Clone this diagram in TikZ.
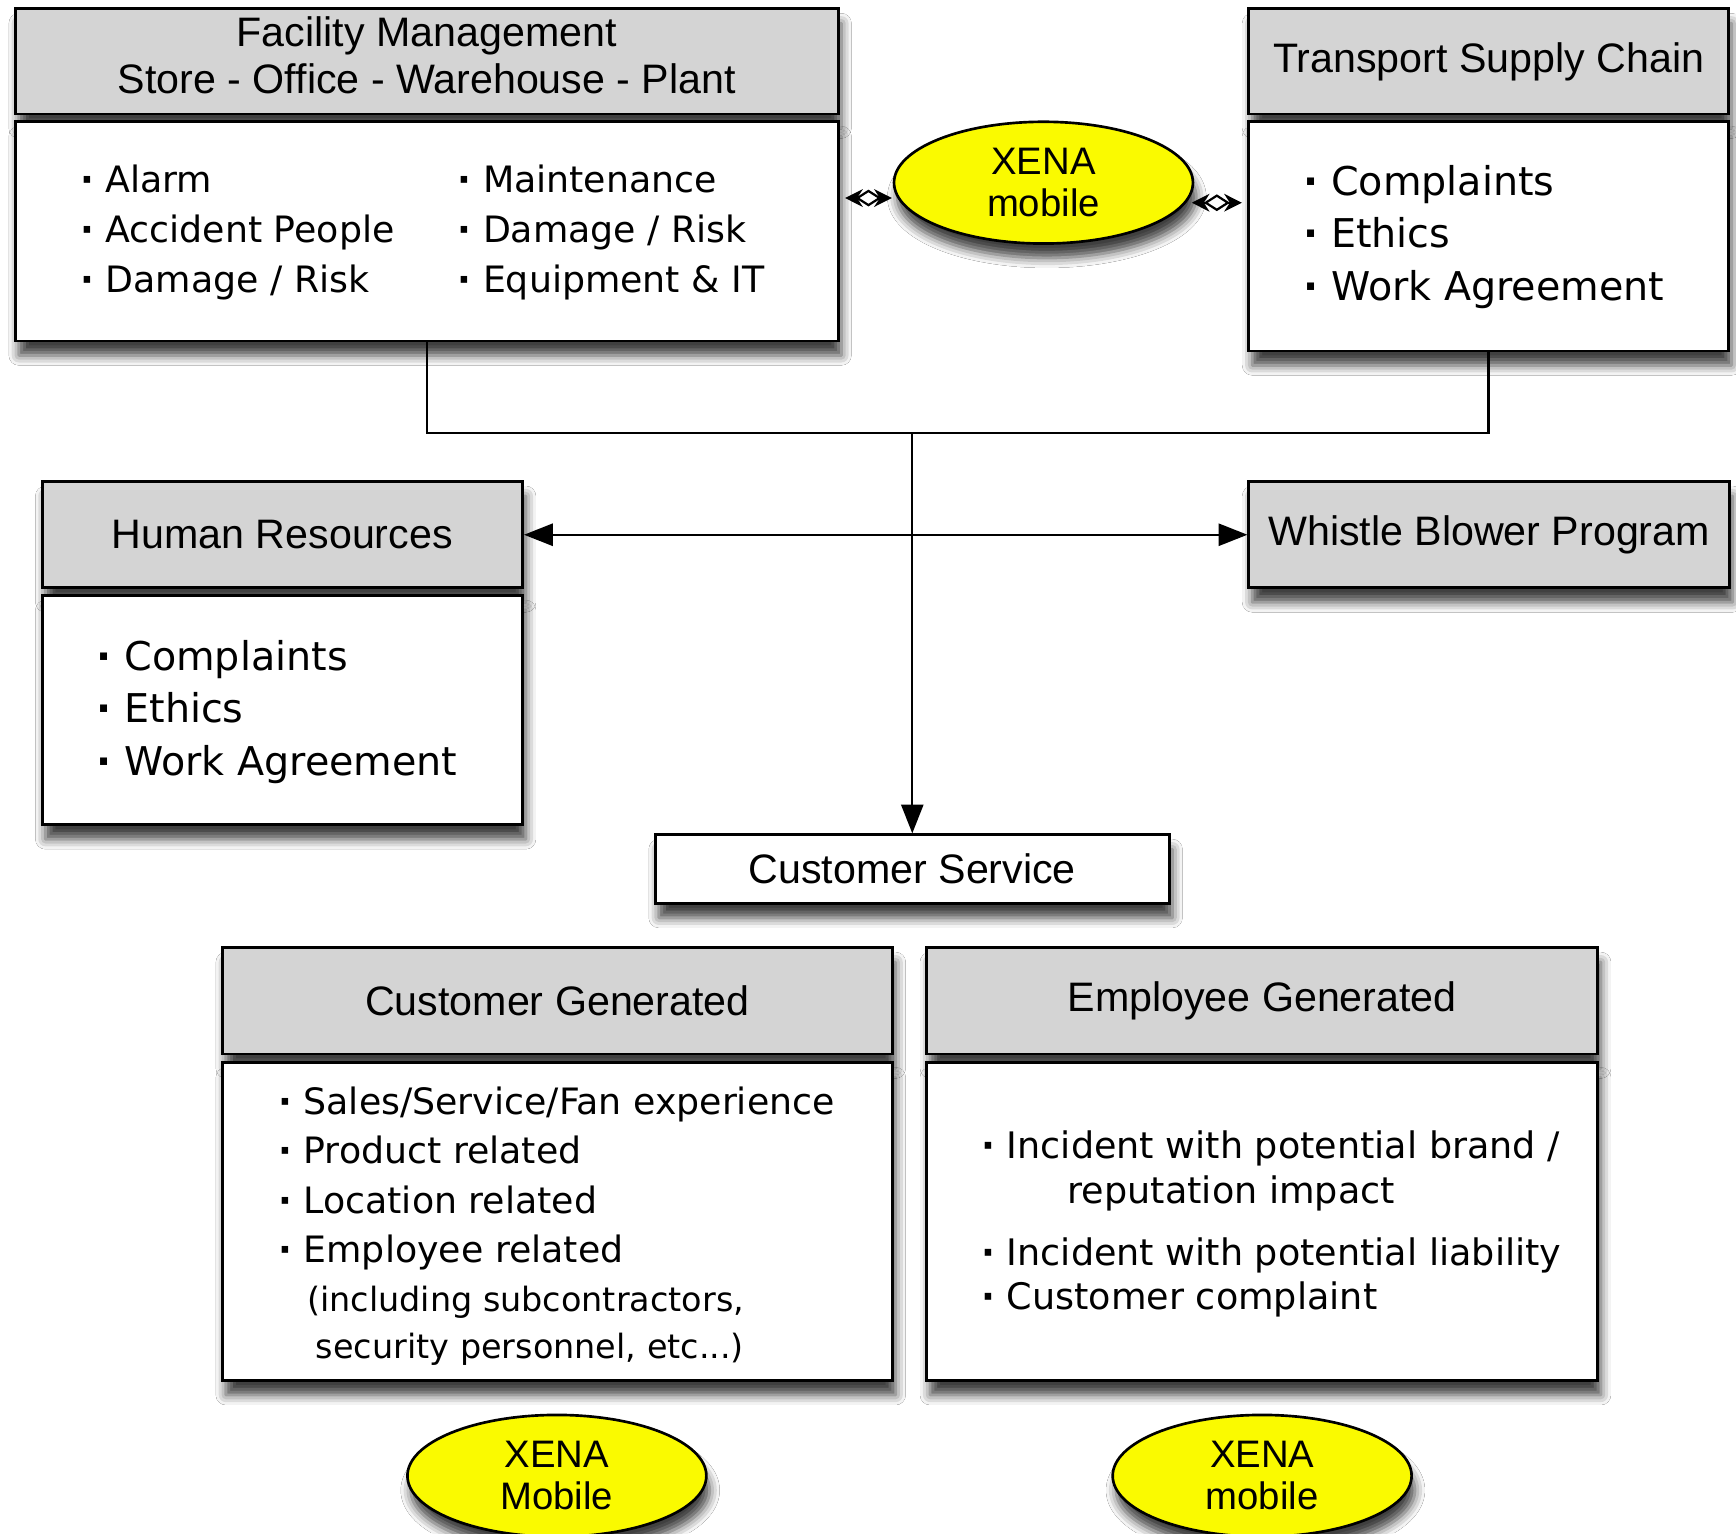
\documentclass[tikz,border=0pt]{standalone}
\usepackage{fontspec}
\setmainfont{Liberation Sans}
\newfontfamily\listfont{DejaVu Sans}
\usetikzlibrary{shapes.geometric,arrows.meta,shadows.blur,decorations.markings}
\definecolor{hdrgray}{HTML}{D4D4D4}
\definecolor{xyellow}{HTML}{FAFA00}
\newcommand{\bul}{{\bfseries ·}}
\tikzset{
  shad/.style={blur shadow={shadow xshift=1.5pt, shadow yshift=-6.5pt, shadow blur radius=4.5pt, shadow opacity=75}},
  hdr/.style={rectangle, draw=black, line width=1.3pt, fill=hdrgray, inner sep=0pt,
    font=\fontsize{18.6}{21.5}\selectfont, align=center, shad},
  bodybox/.style={rectangle, draw=black, line width=1.3pt, fill=white, inner sep=0pt, shad},
  xena/.style={ellipse, draw=black, line width=1.2pt, fill=xyellow, inner sep=0pt,
    minimum width=135pt, minimum height=55pt, font=\fontsize{17.3}{19}\selectfont, align=center, shad},
  hdrtxt/.style={inner sep=0pt, font=\fontsize{18.6}{21.5}\selectfont, align=center},
  lstA/.style={anchor=base west, inner sep=0pt, font=\listfont\fontsize{16.4}{20}\selectfont},
  lstB/.style={anchor=base west, inner sep=0pt, font=\listfont\fontsize{17.9}{22}\selectfont},
  lstC/.style={anchor=base west, inner sep=0pt, font=\listfont\fontsize{16.5}{20}\selectfont},
  lstS/.style={anchor=base west, inner sep=0pt, font=\listfont\fontsize{15.1}{18}\selectfont},
  conn/.style={line width=1pt},
  arr/.style={conn, -{Triangle[length=13pt,width=10pt]}},
  darr/.style={conn, {Triangle[length=13pt,width=10pt]}-{Triangle[length=13pt,width=10pt]}},
  xarr/.style={line width=1pt, {Stealth[length=8pt,width=8pt]}-{Stealth[length=8pt,width=8pt]},
    shorten <=2.5pt, shorten >=2.5pt, postaction={decorate},
    decoration={markings, mark=at position 0.5 with {\draw[-, line width=1pt, fill=white]
      (-5pt,0)--(0,3.2pt)--(5pt,0)--(0,-3.2pt)--cycle;}}},
}
\begin{document}
\begin{tikzpicture}[x=0.5pt,y=-0.5pt]
\useasboundingbox (0,0) rectangle (1568,1385);
\fill[white] (0,0) rectangle (1568,1385);
\begin{scope}
\clip (0,0) rectangle (1568,1385);
% Facility management
\node[hdr, minimum width=371.5pt, minimum height=47.5pt] (fmh) at (385.5,55.5) {};
\node[hdrtxt] (fmt) at (385.5,50) {Facility Management\\Store - Office - Warehouse - Plant};
\node[bodybox, minimum width=371.5pt, minimum height=99pt] (fmb) at (385.5,209) {};
\node[lstA] (fm1) at (72,174) {\bul\ Alarm};
\node[lstA] (fm2) at (72,219) {\bul\ Accident People};
\node[lstA] (fm3) at (72,264) {\bul\ Damage / Risk};
\node[lstA] (fm4) at (413,174) {\bul\ Maintenance};
\node[lstA] (fm5) at (413,219) {\bul\ Damage / Risk};
\node[lstA] (fm6) at (413,264) {\bul\ Equipment \& IT};
% Transport supply chain
\node[hdr, minimum width=216.5pt, minimum height=47.5pt] (tsh) at (1344.5,55.5) {Transport Supply Chain};
\node[bodybox, minimum width=216.5pt, minimum height=103.5pt] (tsb) at (1344.5,213.5) {};
\node[lstB] (ts1) at (1177,177) {\bul\ Complaints};
\node[lstB] (ts2) at (1177,224) {\bul\ Ethics};
\node[lstB] (ts3) at (1177,271) {\bul\ Work Agreement};
% XENA top
\node[xena] (xtop) at (942.5,165) {XENA\\mobile};
% Human resources
\node[hdr, minimum width=217pt, minimum height=48pt] (hrh) at (255,483) {Human Resources};
\node[bodybox, minimum width=217pt, minimum height=103.5pt] (hrb) at (255,641.5) {};
\node[lstB] (hr1) at (87,606) {\bul\ Complaints};
\node[lstB] (hr2) at (87,653) {\bul\ Ethics};
\node[lstB] (hr3) at (87,700) {\bul\ Work Agreement};
% Whistle blower
\node[hdr, minimum width=217pt, minimum height=48pt] (wbh) at (1345,483) {Whistle Blower Program};
% Customer service
\node[bodybox, minimum width=232pt, minimum height=31pt, font=\fontsize{18.6}{21.5}\selectfont] (cs) at (824,785) {Customer Service};
% Customer generated
\node[hdr, minimum width=302.5pt, minimum height=48pt] (cgh) at (503.5,904) {Customer Generated};
\node[bodybox, minimum width=302.5pt, minimum height=143.5pt] (cgb) at (503.5,1103.5) {};
\node[lstA] (cg1) at (251,1007) {\bul\ Sales/Service/Fan experience};
\node[lstA] (cg2) at (251,1051) {\bul\ Product related};
\node[lstA] (cg3) at (251,1096) {\bul\ Location related};
\node[lstA] (cg4) at (251,1140) {\bul\ Employee related};
\node[lstS] (cg5) at (277,1185) {(including subcontractors,};
\node[lstS] (cg6) at (285,1227) {security personnel, etc...)};
% Employee generated
\node[hdr, minimum width=303pt, minimum height=48pt] (egh) at (1140,904) {Employee Generated};
\node[bodybox, minimum width=303pt, minimum height=143.5pt] (egb) at (1140,1103.5) {};
\node[lstC] (eg1) at (886,1046) {\bul\ Incident with potential brand /};
\node[lstC] (eg2) at (964,1087) {reputation impact};
\node[lstC] (eg3) at (886,1143) {\bul\ Incident with potential liability};
\node[lstC] (eg4) at (886,1183) {\bul\ Customer complaint};
% XENA bottom
\node[xena] (xbl) at (503,1333) {XENA\\Mobile};
\node[xena] (xbr) at (1140,1333) {XENA\\mobile};
% connectors
\coordinate (jn) at (824,391);
\draw[conn] (fmb.south) |- (jn) -| (tsb.south);
\draw[arr] (jn) -- (cs.north);
\draw[darr] (hrh.east) -- (wbh.west);
\draw[xarr] (xtop.186) -- (fmb.east |- xtop.186);
\draw[xarr] (xtop.-8.6) -- (tsb.west |- xtop.-8.6);
\end{scope}
\end{tikzpicture}
\end{document}
